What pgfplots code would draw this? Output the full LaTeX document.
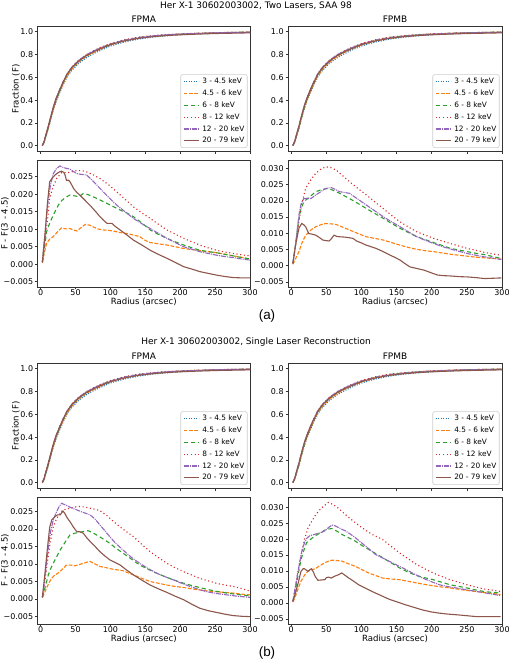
\documentclass[border=0pt]{standalone}
\usepackage{pgfplots}
\usepackage{pgfplotstable}
\pgfplotsset{compat=1.18}
\usepackage{fontspec}
\setmainfont{DejaVu Sans}
\newfontfamily\labfont{Liberation Sans}

\definecolor{c1}{rgb}{0.122,0.467,0.706}
\definecolor{c2}{rgb}{1.000,0.498,0.055}
\definecolor{c3}{rgb}{0.173,0.627,0.173}
\definecolor{c4}{rgb}{0.839,0.153,0.157}
\definecolor{c5}{rgb}{0.580,0.404,0.741}
\definecolor{c6}{rgb}{0.549,0.337,0.294}
\definecolor{frame}{rgb}{0.2,0.2,0.2}
\definecolor{legedge}{rgb}{0.8,0.8,0.8}
\definecolor{legfill}{rgb}{1,1,1}

\pgfplotstableread{
r F1 F2 F3 F4 F5 F6
2.5 0.003 0.003 0.003 0.003 0.003 0.003
5 0.030 0.032 0.034 0.035 0.038 0.040
8 0.090 0.095 0.099 0.102 0.106 0.108
11 0.150 0.156 0.161 0.166 0.171 0.172
14 0.220 0.227 0.233 0.239 0.244 0.244
18 0.310 0.318 0.324 0.332 0.336 0.335
22 0.385 0.394 0.401 0.409 0.412 0.411
27 0.460 0.470 0.478 0.486 0.488 0.486
32 0.530 0.540 0.549 0.557 0.558 0.555
38 0.605 0.615 0.625 0.632 0.632 0.629
45 0.665 0.675 0.685 0.692 0.692 0.687
55 0.725 0.735 0.745 0.752 0.751 0.745
65 0.770 0.781 0.790 0.796 0.796 0.788
75 0.805 0.816 0.824 0.830 0.828 0.821
85 0.835 0.845 0.853 0.860 0.857 0.849
100 0.875 0.885 0.892 0.896 0.892 0.887
120 0.910 0.919 0.925 0.930 0.925 0.919
140 0.935 0.943 0.949 0.952 0.947 0.942
160 0.952 0.958 0.962 0.965 0.962 0.956
180 0.964 0.970 0.972 0.974 0.972 0.966
200 0.973 0.978 0.979 0.981 0.979 0.973
225 0.981 0.985 0.985 0.987 0.985 0.979
250 0.987 0.990 0.990 0.991 0.990 0.984
275 0.991 0.993 0.994 0.994 0.993 0.987
300 0.994 0.996 0.996 0.996 0.995 0.990
}\Ftab

\pgfplotsset{
  s1/.style={color=c1, line width=1.1bp, dash pattern=on 1.1bp off 1.4bp},
  s2/.style={color=c2, line width=1.1bp, dash pattern=on 3.8bp off 1.6bp},
  s3/.style={color=c3, line width=1.1bp, dash pattern=on 4.2bp off 3bp},
  s4/.style={color=c4, line width=1.1bp, dash pattern=on 1.1bp off 2.6bp},
  s5/.style={color=c5, line width=1.1bp, dash pattern=on 5bp off 1bp on 1bp off 1bp},
  s6/.style={color=c6, line width=1.1bp},
  every axis title shift=0pt,
  panel/.style={
    scale only axis, anchor=south west,
    xmin=-4.5, xmax=300,
    xtick={0,50,100,150,200,250,300},
    scaled x ticks=false, scaled y ticks=false,
    tick align=outside, xtick pos=bottom, ytick pos=left,
    major tick length=2.5bp,
    axis line style={frame, line width=0.8bp},
    every tick/.style={frame, line width=0.6bp},
    tick label style={font=\fontsize{8}{9}\selectfont},
    xticklabel style={inner sep=0pt},
    yticklabel style={inner xsep=1.7bp},
    label style={font=\fontsize{8.6}{10}\selectfont},
    title style={font=\fontsize{9}{10}\selectfont, at={(axis description cs:0.5,1.055)}, anchor=center},
    /pgf/number format/assume math mode=true,
  },
  toppanel/.style={panel, height=125.5bp,
    ymin=-0.05, ymax=1.05,
    ytick={0,0.2,0.4,0.6,0.8,1},
    yticklabels={0.0,0.2,0.4,0.6,0.8,1.0},
    xticklabels={},
    legend cell align=left,
    legend image code/.code={\draw[##1] (0bp,0bp) -- (15bp,0bp);},
    legend style={at={(axis description cs:1,0)}, anchor=south east,
      xshift=-2.5bp, yshift=3.5bp,
      font=\fontsize{7.4}{8}\selectfont,
      draw=legedge, line width=0.6bp, rounded corners=2bp,
      fill=legfill,
      inner sep=2.3bp, row sep=2.9bp, column sep=2.5bp,
      nodes={inner sep=0.6bp, text height=6bp, text depth=1.8bp}},
  },
  respanel/.style={panel, height=127bp,
    xlabel={Radius (arcsec)},
    xlabel style={at={(axis description cs:0.5,-0.116)}, anchor=center},
  },
}

\newcommand{\topcurves}{%
  \addplot[s1] table[x=r,y=F1]{\Ftab};
  \addplot[s2] table[x=r,y=F2]{\Ftab};
  \addplot[s3] table[x=r,y=F3]{\Ftab};
  \addplot[s4] table[x=r,y=F4]{\Ftab};
  \addplot[s5] table[x=r,y=F5]{\Ftab};
  \addplot[s6] table[x=r,y=F6]{\Ftab};
  \legend{3 - 4.5 keV, 4.5 - 6 keV, 6 - 8 keV, 8 - 12 keV, 12 - 20 keV, 20 - 79 keV}
}

\begin{document}
\begin{tikzpicture}
\path[use as bounding box] (0,0) rectangle (509bp,660bp);

% ================= (a) =================
\node[font=\fontsize{9}{10}\selectfont] at (256bp,654.5bp) {Her X-1 30602003002, Two Lasers, SAA 98};

\begin{axis}[toppanel, at={(37.5bp,508.5bp)}, width=212.5bp, title={FPMA},
  ylabel={Fraction (F)}, ylabel style={at={(axis description cs:-0.101,0.5)}, anchor=center}]
\topcurves
\end{axis}

\begin{axis}[toppanel, at={(288bp,508.5bp)}, width=214bp, title={FPMB}]
\topcurves
\end{axis}

\begin{axis}[respanel, at={(37.5bp,373bp)}, width=212.5bp,
  ymin=-0.0065, ymax=0.0298,
  ytick={-0.005,0,0.005,0.01,0.015,0.02,0.025},
  yticklabels={−0.005,0.000,0.005,0.010,0.015,0.020,0.025},
  ylabel={F - F(3 - 4.5)}, ylabel style={at={(axis description cs:-0.153,0.5)}, anchor=center}]
\addplot[s2] coordinates {(2.5,0.0005) (5,0.003) (8.6,0.006) (13,0.0072) (18,0.0079) (24,0.0092) (30,0.0104) (36,0.0101) (42,0.0102) (47,0.0098) (52,0.0095) (58,0.0105) (64,0.0114) (70,0.0112) (75,0.0107) (82,0.0101) (90,0.0098) (97,0.0097) (104,0.0095) (113,0.0091) (123,0.0088) (132,0.0084) (142,0.0079) (150,0.0068) (157,0.0062) (170,0.0058) (181,0.0055) (193,0.0050) (205,0.0045) (217,0.0042) (228,0.0039) (240,0.0036) (252,0.0033) (264,0.0029) (276,0.0024) (288,0.0020) (300,0.0015)};
\addplot[s3] coordinates {(2.5,0.0005) (5,0.004) (8.6,0.0093) (13,0.0118) (18,0.0140) (23,0.0160) (28,0.0178) (35,0.0190) (42,0.0198) (50,0.0195) (55,0.0193) (61,0.0202) (68,0.0199) (75,0.0193) (85,0.0184) (95,0.0174) (104,0.0165) (114,0.0155) (124,0.0146) (133,0.0136) (145,0.0118) (157,0.0098) (169,0.0085) (181,0.0074) (193,0.0064) (205,0.0055) (217,0.0047) (228,0.0040) (240,0.0036) (252,0.0033) (264,0.0028) (276,0.0024) (288,0.0019) (300,0.0015)};
\addplot[s4] coordinates {(2.5,0.0005) (6,0.006) (10,0.013) (13,0.0188) (18,0.0222) (23,0.0245) (30,0.0262) (40,0.0262) (52,0.0268) (60,0.0267) (66,0.0264) (75,0.0256) (85,0.0245) (97,0.0228) (109,0.0207) (121,0.0186) (133,0.0164) (145,0.0147) (157,0.0131) (169,0.0114) (181,0.0098) (193,0.0086) (205,0.0074) (217,0.0064) (228,0.0055) (240,0.0047) (252,0.0040) (264,0.0035) (276,0.0031) (288,0.0027) (300,0.0024)};
\addplot[s5] coordinates {(2.5,0.0007) (6,0.008) (10,0.017) (14,0.0225) (18,0.0258) (22,0.0272) (27.7,0.0281) (32,0.0277) (37,0.0274) (42,0.0272) (47,0.0265) (52,0.0259) (58,0.0257) (66,0.0255) (75,0.0238) (85,0.0217) (97,0.0192) (109,0.0169) (121,0.0150) (133,0.0131) (145,0.0116) (157,0.0102) (169,0.0088) (181,0.0074) (193,0.0062) (205,0.0050) (217,0.0043) (228,0.0036) (240,0.0031) (252,0.0026) (264,0.0022) (276,0.0019) (288,0.0015) (300,0.0012)};
\addplot[s6] coordinates {(2.5,0.0007) (6,0.008) (10,0.018) (13,0.0236) (18,0.0250) (23,0.0259) (27,0.0264) (30,0.0266) (33,0.0263) (35,0.0255) (37,0.0240) (40,0.0240) (42,0.0236) (45,0.0225) (47,0.0217) (52,0.0205) (56,0.0198) (61,0.0188) (66,0.0178) (71,0.0168) (75,0.0159) (80,0.0148) (85,0.0136) (90,0.0126) (95,0.0117) (99,0.0117) (102,0.0117) (107,0.0108) (114,0.0098) (124,0.0083) (133,0.0069) (145,0.0055) (157,0.0040) (169,0.0028) (181,0.0017) (193,0.0005) (205,-0.0007) (217,-0.0014) (228,-0.0021) (240,-0.0026) (252,-0.0031) (264,-0.0035) (276,-0.0038) (288,-0.0039) (300,-0.0039)};
\end{axis}

\begin{axis}[respanel, at={(288bp,373bp)}, width=214bp,
  ymin=-0.0066, ymax=0.0326,
  ytick={-0.005,0,0.005,0.01,0.015,0.02,0.025,0.03},
  yticklabels={−0.005,0.000,0.005,0.010,0.015,0.020,0.025,0.030}]
\addplot[s2] coordinates {(2.5,0.0004) (6,0.002) (11,0.0043) (15,0.0068) (20.6,0.0094) (28,0.0110) (35,0.0120) (42,0.0126) (49,0.0130) (56,0.0129) (64,0.0127) (73,0.0119) (83,0.0110) (95,0.0099) (107,0.0089) (119,0.0084) (131,0.0079) (143,0.0071) (155,0.0063) (167,0.0056) (179,0.0050) (191,0.0046) (203,0.0043) (215,0.0039) (227,0.0035) (239,0.0032) (251,0.0029) (263,0.0026) (275,0.0024) (287,0.0022) (299,0.0020)};
\addplot[s3] coordinates {(2.5,0.0007) (6,0.006) (11,0.0145) (14,0.0175) (18,0.0197) (25,0.0210) (35,0.0228) (45,0.0236) (54,0.0238) (62,0.0230) (69,0.0223) (76,0.0215) (83,0.0207) (95,0.0192) (107,0.0176) (119,0.0161) (131,0.0146) (143,0.0130) (155,0.0115) (167,0.0102) (179,0.0089) (191,0.0080) (203,0.0071) (215,0.0062) (227,0.0053) (239,0.0048) (251,0.0043) (263,0.0038) (275,0.0034) (287,0.0028) (299,0.0022)};
\addplot[s4] coordinates {(2.5,0.0007) (6,0.006) (11,0.0135) (15,0.019) (20.6,0.0238) (28,0.0265) (35,0.0285) (42,0.0297) (49,0.0305) (56,0.0303) (64,0.0295) (73,0.0278) (83,0.0259) (95,0.0238) (107,0.0218) (119,0.0197) (131,0.0176) (143,0.0155) (155,0.0135) (167,0.0119) (179,0.0104) (191,0.0094) (203,0.0084) (215,0.0076) (227,0.0068) (239,0.0060) (251,0.0053) (263,0.0047) (275,0.0041) (287,0.0036) (299,0.0032)};
\addplot[s5] coordinates {(2.5,0.0007) (6,0.006) (11,0.0156) (14,0.0190) (18,0.0207) (23,0.0207) (28,0.0207) (32,0.0213) (35,0.0218) (42,0.0228) (49,0.0238) (57,0.0241) (63,0.0235) (69,0.0228) (76,0.0226) (83,0.0223) (95,0.0205) (107,0.0187) (119,0.0169) (131,0.0151) (143,0.0135) (155,0.0120) (167,0.0104) (179,0.0089) (191,0.0078) (203,0.0068) (215,0.0059) (227,0.0051) (239,0.0044) (251,0.0037) (263,0.0032) (275,0.0027) (287,0.0023) (299,0.0019)};
\addplot[s6] coordinates {(2.5,0.0007) (6,0.006) (11,0.0115) (15,0.0130) (18,0.0126) (20.6,0.0120) (25,0.0099) (30,0.0097) (35,0.0094) (40,0.0087) (45,0.0079) (50,0.0077) (54,0.0076) (58,0.0085) (61,0.0094) (65,0.0090) (69,0.0089) (76,0.0088) (83,0.0086) (88,0.0084) (93,0.0076) (100,0.0070) (107,0.0063) (114,0.0058) (121,0.0053) (131,0.0043) (141,0.0032) (148,0.0025) (155,0.0017) (162,0.0006) (169,-0.0004) (179,-0.0009) (189,-0.0014) (199,-0.0022) (208,-0.0029) (217,-0.0031) (227,-0.0032) (239,-0.0034) (251,-0.0035) (263,-0.0037) (275,-0.0040) (287,-0.0039) (299,-0.0038)};
\end{axis}

\node[font=\labfont\fontsize{13.5}{15}\selectfont] at (267bp,344bp) {(a)};

% ================= (b) =================
\node[font=\fontsize{9}{10}\selectfont] at (256bp,317.5bp) {Her X-1 30602003002, Single Laser Reconstruction};

\begin{axis}[toppanel, at={(37.5bp,171.5bp)}, width=212.5bp, title={FPMA},
  ylabel={Fraction (F)}, ylabel style={at={(axis description cs:-0.101,0.5)}, anchor=center}]
\topcurves
\end{axis}

\begin{axis}[toppanel, at={(288bp,171.5bp)}, width=214bp, title={FPMB}]
\topcurves
\end{axis}

\begin{axis}[respanel, at={(37.5bp,36bp)}, width=212.5bp,
  ymin=-0.0071, ymax=0.0291,
  ytick={-0.005,0,0.005,0.01,0.015,0.02,0.025},
  yticklabels={−0.005,0.000,0.005,0.010,0.015,0.020,0.025},
  ylabel={F - F(3 - 4.5)}, ylabel style={at={(axis description cs:-0.153,0.5)}, anchor=center}]
\addplot[s2] coordinates {(2.5,0.0005) (6,0.002) (10,0.0038) (13,0.0050) (17,0.0062) (20.5,0.0069) (25,0.0074) (30,0.0083) (37,0.0097) (43,0.0097) (49,0.0095) (55,0.0098) (61,0.0102) (66,0.0105) (71,0.0107) (78,0.0100) (85,0.0093) (95,0.0089) (104,0.0085) (111,0.0083) (118,0.0081) (125,0.0075) (133,0.0069) (145,0.0059) (157,0.0050) (169,0.0045) (181,0.0040) (193,0.0036) (205,0.0033) (217,0.0029) (228,0.0026) (240,0.0023) (252,0.0021) (264,0.0019) (276,0.0017) (288,0.0014) (300,0.0012)};
\addplot[s3] coordinates {(2.5,0.0005) (6,0.003) (11,0.0069) (14,0.0085) (18,0.0102) (23,0.0121) (28,0.0140) (35,0.0162) (42,0.0183) (49,0.0188) (56,0.0190) (62,0.0193) (68,0.0195) (74,0.0190) (80,0.0183) (90,0.0171) (99,0.0159) (108,0.0145) (118,0.0131) (130,0.0114) (142,0.0097) (154,0.0085) (166,0.0074) (178,0.0064) (190,0.0055) (202,0.0047) (214,0.0040) (226,0.0034) (238,0.0028) (252,0.0022) (267,0.0017) (283,0.0013) (300,0.0009)};
\addplot[s4] coordinates {(2.5,0.0005) (6,0.005) (10,0.011) (14,0.0165) (18,0.0205) (23,0.0230) (28,0.0245) (32,0.0254) (40,0.0258) (48,0.0262) (56,0.0264) (64,0.0262) (71,0.0259) (78,0.0256) (85,0.0252) (95,0.0238) (104,0.0222) (113,0.0207) (123,0.0192) (133,0.0178) (145,0.0156) (157,0.0135) (169,0.0118) (181,0.0102) (193,0.0089) (205,0.0078) (217,0.0068) (228,0.0059) (240,0.0052) (252,0.0045) (264,0.0040) (276,0.0036) (288,0.0030) (300,0.0023)};
\addplot[s5] coordinates {(2.5,0.0005) (6,0.006) (10,0.013) (14,0.019) (18,0.0225) (22,0.0245) (26,0.0262) (30,0.0273) (36,0.0268) (42,0.0262) (52,0.0254) (61,0.0247) (71,0.0240) (78,0.0228) (85,0.0211) (92,0.0195) (99,0.0178) (108,0.0158) (118,0.0140) (130,0.0119) (142,0.0102) (154,0.0087) (166,0.0074) (178,0.0064) (190,0.0055) (202,0.0045) (214,0.0036) (226,0.0028) (238,0.0021) (252,0.0016) (267,0.0012) (283,0.0008) (300,0.0005)};
\addplot[s6] coordinates {(2.5,0.0005) (6,0.007) (10,0.015) (13,0.0205) (16,0.0226) (20.5,0.0235) (24,0.0240) (28,0.0240) (32,0.0251) (35,0.0243) (37,0.0235) (40,0.0226) (42,0.0221) (47,0.0205) (52,0.0192) (56,0.0192) (61,0.0188) (66,0.0175) (71,0.0164) (78,0.0150) (85,0.0135) (92,0.0123) (99,0.0112) (106,0.0105) (114,0.0097) (123,0.0083) (133,0.0069) (145,0.0054) (157,0.0040) (169,0.0029) (181,0.0019) (193,0.0008) (205,-0.0002) (217,-0.0015) (228,-0.0026) (240,-0.0033) (252,-0.0038) (264,-0.0043) (276,-0.0047) (288,-0.0049) (300,-0.0050)};
\end{axis}

\begin{axis}[respanel, at={(288bp,36bp)}, width=214bp,
  ymin=-0.0066, ymax=0.0332,
  ytick={-0.005,0,0.005,0.01,0.015,0.02,0.025,0.03},
  yticklabels={−0.005,0.000,0.005,0.010,0.015,0.020,0.025,0.030}]
\addplot[s2] coordinates {(2.4,0.0003) (6,0.002) (10,0.0045) (14,0.0068) (19,0.0087) (24,0.0099) (29,0.0104) (34,0.0107) (41,0.0117) (48,0.0126) (53,0.0131) (58,0.0134) (65,0.0133) (72,0.0131) (81,0.0123) (91,0.0115) (100,0.0105) (110,0.0094) (120,0.0086) (130,0.0078) (142,0.0075) (154,0.0073) (166,0.0068) (178,0.0063) (190,0.0058) (202,0.0054) (214,0.0050) (226,0.0047) (238,0.0043) (250,0.0039) (262,0.0036) (274,0.0033) (286,0.0030) (298,0.0026)};
\addplot[s3] coordinates {(2.4,0.0005) (6,0.004) (10,0.009) (14,0.0136) (18,0.0165) (22,0.0189) (28,0.0200) (34,0.0210) (42,0.0220) (50,0.0231) (58,0.0233) (65,0.0225) (72,0.0215) (81,0.0205) (91,0.0194) (100,0.0181) (110,0.0168) (120,0.0155) (130,0.0142) (142,0.0126) (154,0.0110) (166,0.0097) (178,0.0086) (190,0.0079) (202,0.0073) (214,0.0065) (226,0.0057) (238,0.0052) (250,0.0047) (262,0.0041) (274,0.0036) (286,0.0033) (298,0.0031)};
\addplot[s4] coordinates {(2.4,0.0005) (6,0.005) (10,0.010) (14,0.0147) (19,0.0200) (24,0.0235) (29,0.0255) (34,0.0273) (40,0.0290) (46,0.0303) (53,0.0315) (60,0.0308) (67,0.0297) (74,0.0283) (82,0.0268) (91,0.0252) (100,0.0237) (115,0.0215) (130,0.0199) (142,0.0178) (154,0.0157) (166,0.0139) (178,0.0121) (190,0.0107) (202,0.0094) (214,0.0083) (226,0.0073) (238,0.0065) (250,0.0057) (262,0.0050) (274,0.0044) (286,0.0040) (298,0.0036)};
\addplot[s5] coordinates {(2.4,0.0005) (6,0.005) (9,0.009) (12,0.0126) (15,0.0160) (19,0.0189) (22,0.0202) (26,0.0210) (32,0.0214) (38,0.0218) (43,0.0221) (48,0.0226) (53,0.0236) (58,0.0244) (62,0.0242) (65,0.0239) (71,0.0232) (77,0.0226) (84,0.0216) (91,0.0205) (98,0.0192) (106,0.0178) (113,0.0165) (120,0.0152) (130,0.0141) (139,0.0131) (151,0.0118) (163,0.0105) (175,0.0091) (187,0.0078) (199,0.0067) (211,0.0057) (223,0.0051) (235,0.0047) (250,0.0041) (264,0.0036) (280,0.0030) (298,0.0023)};
\addplot[s6] coordinates {(2.4,0.0005) (6,0.003) (10,0.0063) (14,0.0099) (17,0.0107) (19,0.0107) (22,0.0102) (24,0.0099) (27,0.0105) (29,0.0107) (32,0.0095) (34,0.0084) (38,0.0071) (43,0.0072) (48,0.0073) (50,0.0079) (53,0.0081) (57,0.0078) (62,0.0084) (67,0.0088) (72,0.0094) (77,0.0086) (82,0.0078) (89,0.0068) (96,0.0057) (105,0.0047) (115,0.0036) (127,0.0024) (139,0.0012) (151,0.0003) (163,-0.0006) (175,-0.0014) (187,-0.0022) (199,-0.0028) (211,-0.0032) (223,-0.0035) (235,-0.0037) (250,-0.0040) (264,-0.0043) (280,-0.0043) (298,-0.0043)};
\end{axis}

\node[font=\labfont\fontsize{13.5}{15}\selectfont] at (267bp,7bp) {(b)};
\end{tikzpicture}
\end{document}
